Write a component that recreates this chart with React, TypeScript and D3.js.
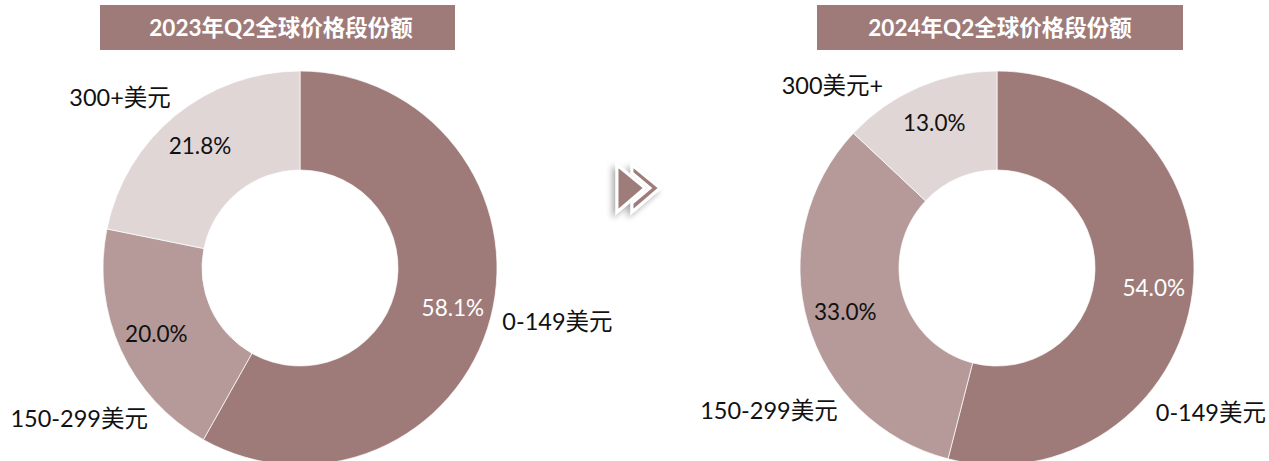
import React from 'react';
import * as d3 from 'd3';

// ---- data ----
const titles = ['2023年Q2全球价格段份额', '2024年Q2全球价格段份额'];
const categories2023 = ['0-149美元', '150-299美元', '300+美元'];
const categories2024 = ['0-149美元', '150-299美元', '300美元+'];
const share2023 = [58.1, 20.0, 21.8];
const share2024 = [54.0, 33.0, 13.0];

// ---- style / layout ----
const colors = ['#9E7B79', '#B59A99', '#E1D6D6'];
const pctColors = ['#FFFFFF', '#111111', '#111111'];
const W = 1269;
const H = 461;
const R_OUT = 197;
const R_IN = 98;
const PCT_R = 158;
const FONT = 'Lato, "Noto Sans CJK SC", sans-serif';

const charts = [
  {
    title: titles[0],
    cats: categories2023,
    values: share2023,
    cx: 300,
    cy: 268,
    box: [100, 455],
    titleX: 281,
    // category label placement: [angle in degrees clockwise from top, radius]
    catPos: [[101.8, 263], [235.8, 267], [313.5, 248]],
  },
  {
    title: titles[1],
    cats: categories2024,
    values: share2024,
    cx: 997,
    cy: 268,
    box: [817, 1183],
    titleX: 1000,
    catPos: [[124, 258], [238, 269], [318, 246]],
  },
];

const polar = (deg: number, r: number) => {
  const a = (deg * Math.PI) / 180;
  return [Math.sin(a) * r, -Math.cos(a) * r];
};

function Donut({ c }: { c: any }) {
  const pie = d3.pie<number>().sort(null).value((d) => d)(c.values);
  const arc = d3.arc<d3.PieArcDatum<number>>().innerRadius(R_IN).outerRadius(R_OUT);
  const pctArc = d3.arc<d3.PieArcDatum<number>>().innerRadius(PCT_R).outerRadius(PCT_R);
  const fmt = d3.format('.1f');
  return (
    <g>
      <rect x={c.box[0]} y={5} width={c.box[1] - c.box[0]} height={45} fill={colors[0]} />
      <text
        x={c.titleX}
        y={27.5}
        dy="0.36em"
        textAnchor="middle"
        fill="#fff"
        fontWeight="bold"
        fontSize={22.5}
        fontFamily={FONT}
      >
        {c.title}
      </text>
      <g transform={`translate(${c.cx},${c.cy})`}>
        {pie.map((p, i) => (
          <path key={i} d={arc(p) || ''} fill={colors[i]} stroke="#fff" strokeWidth={0.7} />
        ))}
        {pie.map((p, i) => {
          const [x, y] = pctArc.centroid(p);
          return (
            <text
              key={'p' + i}
              x={x}
              y={y}
              dy="0.36em"
              textAnchor="middle"
              fontSize={22.5}
              fontFamily={FONT}
              fill={pctColors[i]}
            >
              {fmt(p.data) + '%'}
            </text>
          );
        })}
        {c.cats.map((name: string, i: number) => {
          const [x, y] = polar(c.catPos[i][0], c.catPos[i][1]);
          return (
            <text
              key={'c' + i}
              x={x}
              y={y}
              dy="0.36em"
              textAnchor="middle"
              fontSize={23.5}
              fontFamily={FONT}
              fill="#111"
            >
              {name}
            </text>
          );
        })}
      </g>
    </g>
  );
}

export default function App() {
  return (
    <div style={{ position: 'absolute', left: 0, top: 0 }}>
      <svg width={W} height={H} style={{ display: 'block', background: '#fff' }}>
        <defs>
          <filter id="shadow" x="-50%" y="-50%" width="200%" height="200%">
            <feGaussianBlur in="SourceAlpha" stdDeviation="3" />
            <feOffset dx="-3" dy="3" result="b" />
            <feComponentTransfer>
              <feFuncA type="linear" slope="0.35" />
            </feComponentTransfer>
            <feMerge>
              <feMergeNode />
              <feMergeNode in="SourceGraphic" />
            </feMerge>
          </filter>
        </defs>
        {charts.map((c, i) => (
          <Donut key={i} c={c} />
        ))}
        <g filter="url(#shadow)">
          <polygon
            points="632,165 660,188 632,212 632,203 650,188 632,173"
            fill={colors[0]}
            stroke="#fff"
            strokeWidth={3}
            strokeLinejoin="miter"
          />
          <polygon
            points="617,165 645,188 617,212"
            fill={colors[0]}
            stroke="#fff"
            strokeWidth={3}
            strokeLinejoin="miter"
          />
        </g>
      </svg>
    </div>
  );
}
